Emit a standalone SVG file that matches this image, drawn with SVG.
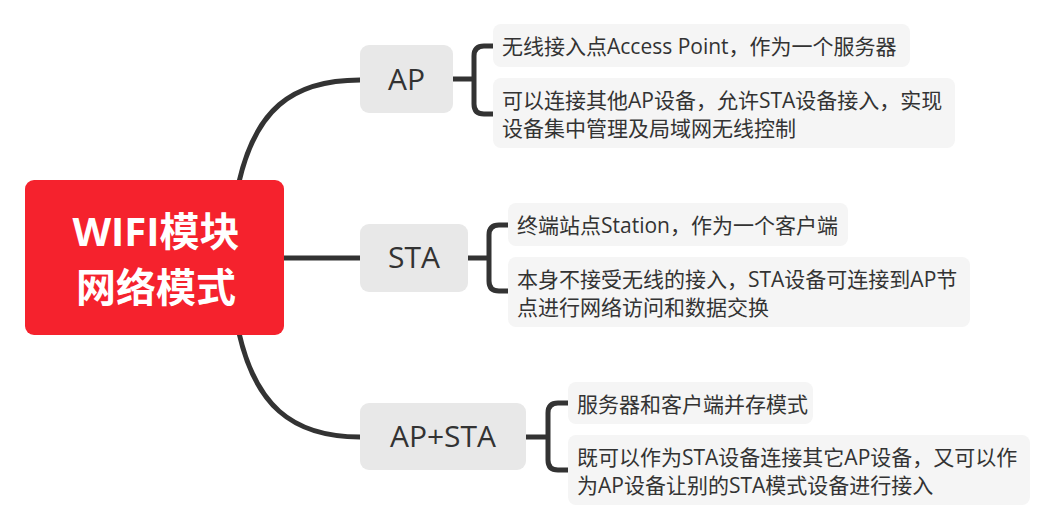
<svg xmlns="http://www.w3.org/2000/svg" width="1055" height="524" viewBox="0 0 1055 524">
<style>
.conn{fill:none;stroke:#333333;stroke-width:5;stroke-linejoin:round}
.topic rect{fill:#e8e8e8}
.topic text{font-family:"Open Sans","Noto Sans CJK SC",sans-serif;font-size:30px;fill:#333333;text-anchor:middle}
.leaf rect{fill:#f5f5f5}
.leaf text{font-family:"Open Sans","Noto Sans CJK SC",sans-serif;font-size:21px;fill:#333333}
.root text{font-family:"Open Sans","Noto Sans CJK SC",sans-serif;font-size:40px;font-weight:bold;fill:#ffffff;text-anchor:middle}
</style>
<rect width="1055" height="524" fill="#ffffff"/>
<g id="connectors">
<path class="conn" d="M239,182 C255,112 290,80 360,80"/>
<path class="conn" d="M284,258 H360"/>
<path class="conn" d="M239,333 C255,403 290,437 360,437"/>
<path class="conn" d="M453,79 H474 M493,46 H484 Q474,46 474,56 V104 Q474,114 484,114 H493"/>
<path class="conn" d="M468,258 H489 M508,225 H499 Q489,225 489,235 V281 Q489,291 499,291 H508"/>
<path class="conn" d="M526,437 H548 M568,403 H558 Q548,403 548,413 V460 Q548,470 558,470 H568"/>
</g>
<g id="root" class="root">
<rect x="25" y="180" width="259" height="155" rx="9" fill="#f5222d"/>
<text x="156" y="246">WIFI模块</text>
<text x="156" y="302">网络模式</text>
</g>
<g id="ap" class="topic">
<rect x="360" y="45" width="93" height="68" rx="9"/>
<text x="406.5" y="90">AP</text>
</g>
<g id="sta" class="topic">
<rect x="360" y="224" width="108" height="68" rx="9"/>
<text x="414" y="268">STA</text>
</g>
<g id="apsta" class="topic">
<rect x="360" y="403" width="166" height="67" rx="9"/>
<text x="443" y="447">AP+STA</text>
</g>
<g id="ap-1" class="leaf">
<rect x="493" y="24" width="417" height="43" rx="8"/>
<text x="502" y="54">无线接入点Access Point，作为一个服务器</text>
</g>
<g id="ap-2" class="leaf">
<rect x="493" y="78" width="462" height="70" rx="8"/>
<text x="502" y="108">可以连接其他AP设备，允许STA设备接入，实现</text>
<text x="502" y="136">设备集中管理及局域网无线控制</text>
</g>
<g id="sta-1" class="leaf">
<rect x="508" y="203" width="340" height="43" rx="8"/>
<text x="517" y="233">终端站点Station，作为一个客户端</text>
</g>
<g id="sta-2" class="leaf">
<rect x="508" y="257" width="462" height="70" rx="8"/>
<text x="517" y="287">本身不接受无线的接入，STA设备可连接到AP节</text>
<text x="517" y="315">点进行网络访问和数据交换</text>
</g>
<g id="apsta-1" class="leaf">
<rect x="568" y="382" width="245" height="42" rx="8"/>
<text x="577" y="412">服务器和客户端并存模式</text>
</g>
<g id="apsta-2" class="leaf">
<rect x="568" y="435" width="462" height="70" rx="8"/>
<text x="577" y="465">既可以作为STA设备连接其它AP设备，又可以作</text>
<text x="577" y="493">为AP设备让别的STA模式设备进行接入</text>
</g>
</svg>
